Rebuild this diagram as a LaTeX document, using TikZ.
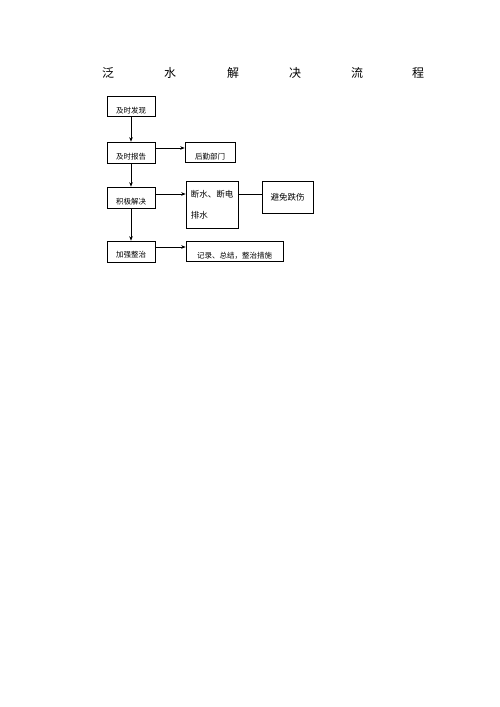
\documentclass[tikz,border=0pt]{standalone}
\usepackage{fontspec}
\setmainfont{Noto Sans CJK SC}
\usetikzlibrary{arrows.meta}
\begin{document}
\begin{tikzpicture}[x=1pt,y=-1pt,
  box/.style={draw,line width=0.6pt,inner sep=0pt,font=\fontsize{7.5}{9}\selectfont},
  low/.style={text height=14pt,text depth=0pt},
  arr/.style={line width=0.6pt,-{Stealth[length=4.5pt,width=3.5pt]}},
  ln/.style={line width=0.6pt},
  ttl/.style={font=\fontsize{12}{14}\selectfont,inner sep=0pt}]
\useasboundingbox (0,0) rectangle (500,707);
\foreach \c/\x [count=\i] in {泛/108,水/170,解/233,决/295,流/357,程/418}
  \node[ttl] (t\i) at (\x,73) {\c};
\node[box,low,minimum width=48pt,minimum height=20pt] (b1) at (131,106) {及时发现};
\node[box,low,minimum width=48pt,minimum height=21pt] (b2) at (131,152.5) {及时报告};
\node[box,low,minimum width=50pt,minimum height=20pt] (b3) at (210,152) {后勤部门};
\node[box,low,minimum width=48pt,minimum height=21pt] (b4) at (131,197.5) {积极解决};
\node[box,minimum width=52pt,minimum height=47pt,font=\fontsize{8.5}{21}\selectfont,align=left] (b5) at (212,204.5) {断水、断电\\排水};
\node[box,minimum width=51pt,minimum height=32pt,font=\fontsize{8.5}{10}\selectfont] (b6) at (287.5,197) {避免跌伤};
\node[box,text height=12pt,text depth=0pt,minimum width=48pt,minimum height=21pt] (b7) at (131,251.5) {加强整治};
\node[box,low,minimum width=97pt,minimum height=20pt] (b8) at (234.5,251) {记录、总结，整治措施};
\draw[arr] (b1) -- (b2);
\draw[arr] (b2) -- (b4);
\draw[arr] (b4) -- (b7);
\draw[arr] ([yshift=4.5pt]b2.east) -- ([yshift=4.5pt]b2.east -| b3.west);
\draw[arr] ([yshift=3.5pt]b4.east) -- ([yshift=3.5pt]b4.east -| b5.west);
\draw[ln] ([yshift=3pt]b6.west -| b5.east) -- ([yshift=3pt]b6.west);
\draw[arr] ([yshift=4.5pt]b7.east) -- ([yshift=4.5pt]b7.east -| b8.west);
\end{tikzpicture}
\end{document}
